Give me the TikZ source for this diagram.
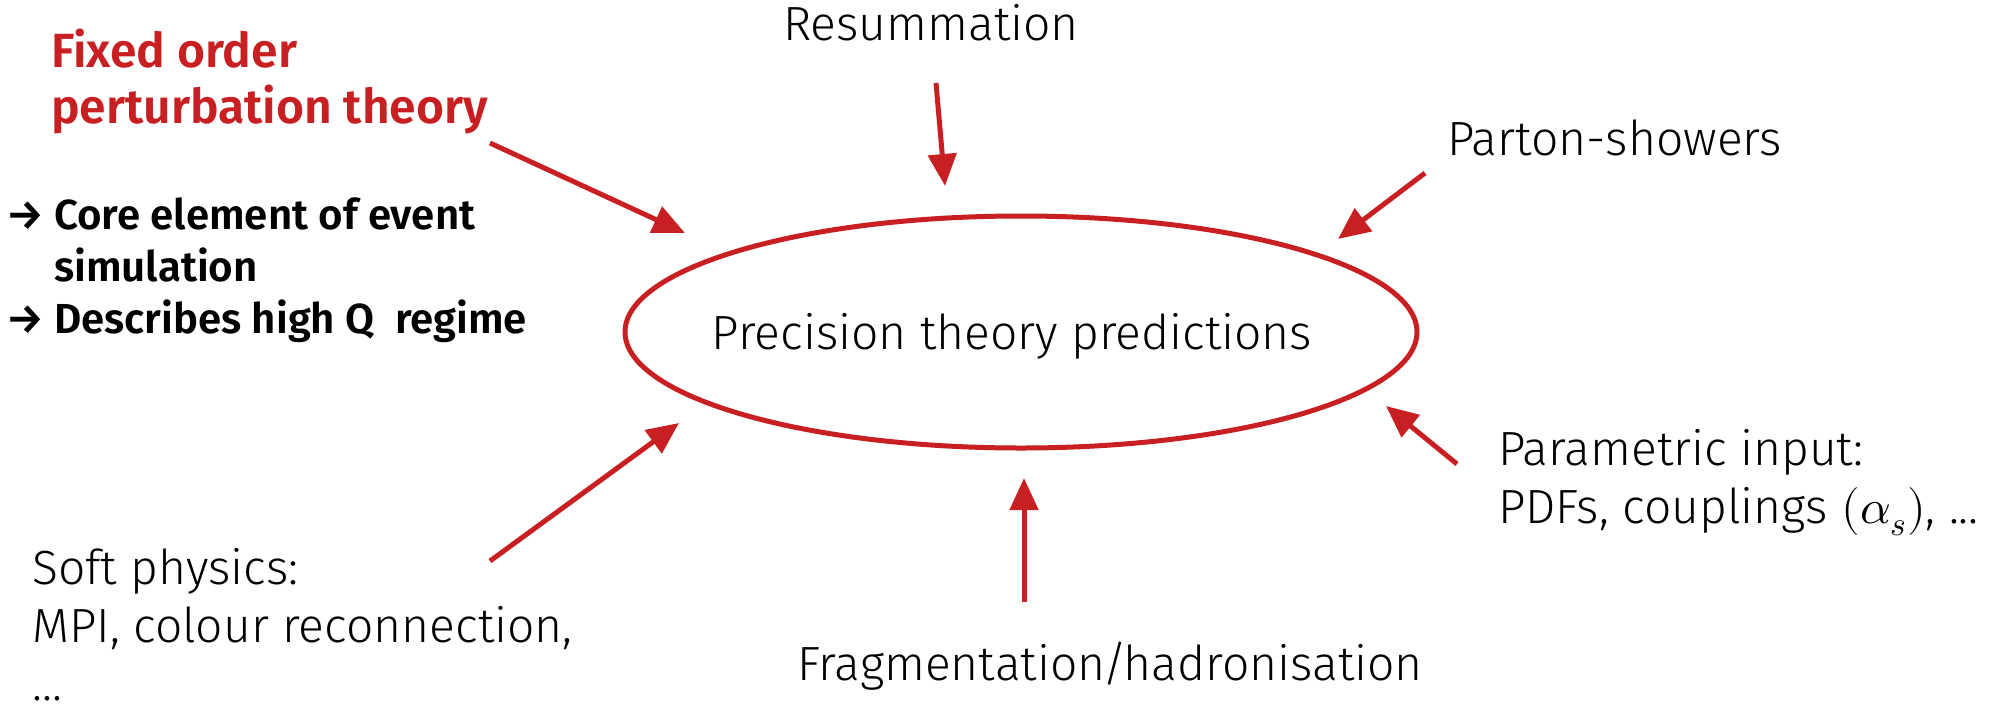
\documentclass[tikz,border=0pt]{standalone}
\usepackage{fontspec}
\usepackage{unicode-math}
\setmainfont{Fira Sans Light}[BoldFont={Fira Sans SemiBold}]
\setmathfont{Latin Modern Math}
\usetikzlibrary{arrows.meta,shapes.geometric}
\definecolor{cred}{RGB}{200,32,34}
\tikzset{
  txt/.style={inner sep=0pt, align=left, font=\fontsize{48}{58}\selectfont},
  arr/.style={draw=cred, line width=5pt, -{Triangle[length=32pt,width=28pt]}, shorten >=0pt},
}
\begin{document}
\begin{tikzpicture}[x=1pt,y=-1pt]
\useasboundingbox (0,0) rectangle (2008,705);
\node[draw=cred, line width=5pt, ellipse, minimum width=792pt, minimum height=232pt, inner sep=0pt] (ell) at (1021,332) {};
\node[txt] (prec) at (1012,336) {Precision theory predictions};
\node[txt, anchor=west, text=cred, font=\fontsize{48}{56}\selectfont\bfseries] (fixed) at (51,82) {Fixed order\\perturbation theory};
\node[txt, anchor=west, font=\fontsize{42}{52}\selectfont\bfseries] (core) at (6,270) {→ Core element of event\\\hphantom{→ }simulation\\→ Describes high Q\ \ regime};
\node[txt] (resum) at (931,23) {Resummation};
\node[txt, anchor=west] (parton) at (1447,138) {Parton-showers};
\node[txt, anchor=west] (param) at (1498,483) {Parametric input:\\PDFs, couplings $(\alpha_s)$, ...};
\node[txt, anchor=west] (soft) at (32,625) {Soft physics:\\MPI, colour reconnection,\\...};
\node[txt] (frag) at (1110,666) {Fragmentation\kern-0.07em/\kern-0.07em hadronisation};
\coordinate (a1s) at (490,143); \coordinate (a1e) at (685,233);
\coordinate (a2s) at (936,83);  \coordinate (a2e) at (945,186);
\coordinate (a3s) at (1425,173); \coordinate (a3e) at (1338,239);
\coordinate (a4s) at (1457,464); \coordinate (a4e) at (1386,406);
\coordinate (a5s) at (490,561); \coordinate (a5e) at (679,423);
\coordinate (a6s) at (1024,602); \coordinate (a6e) at (1024,478);
\draw[arr] (a1s) -- (a1e);
\draw[arr] (a2s) -- (a2e);
\draw[arr] (a3s) -- (a3e);
\draw[arr] (a4s) -- (a4e);
\draw[arr] (a5s) -- (a5e);
\draw[arr] (a6s) -- (a6e);
\end{tikzpicture}
\end{document}
